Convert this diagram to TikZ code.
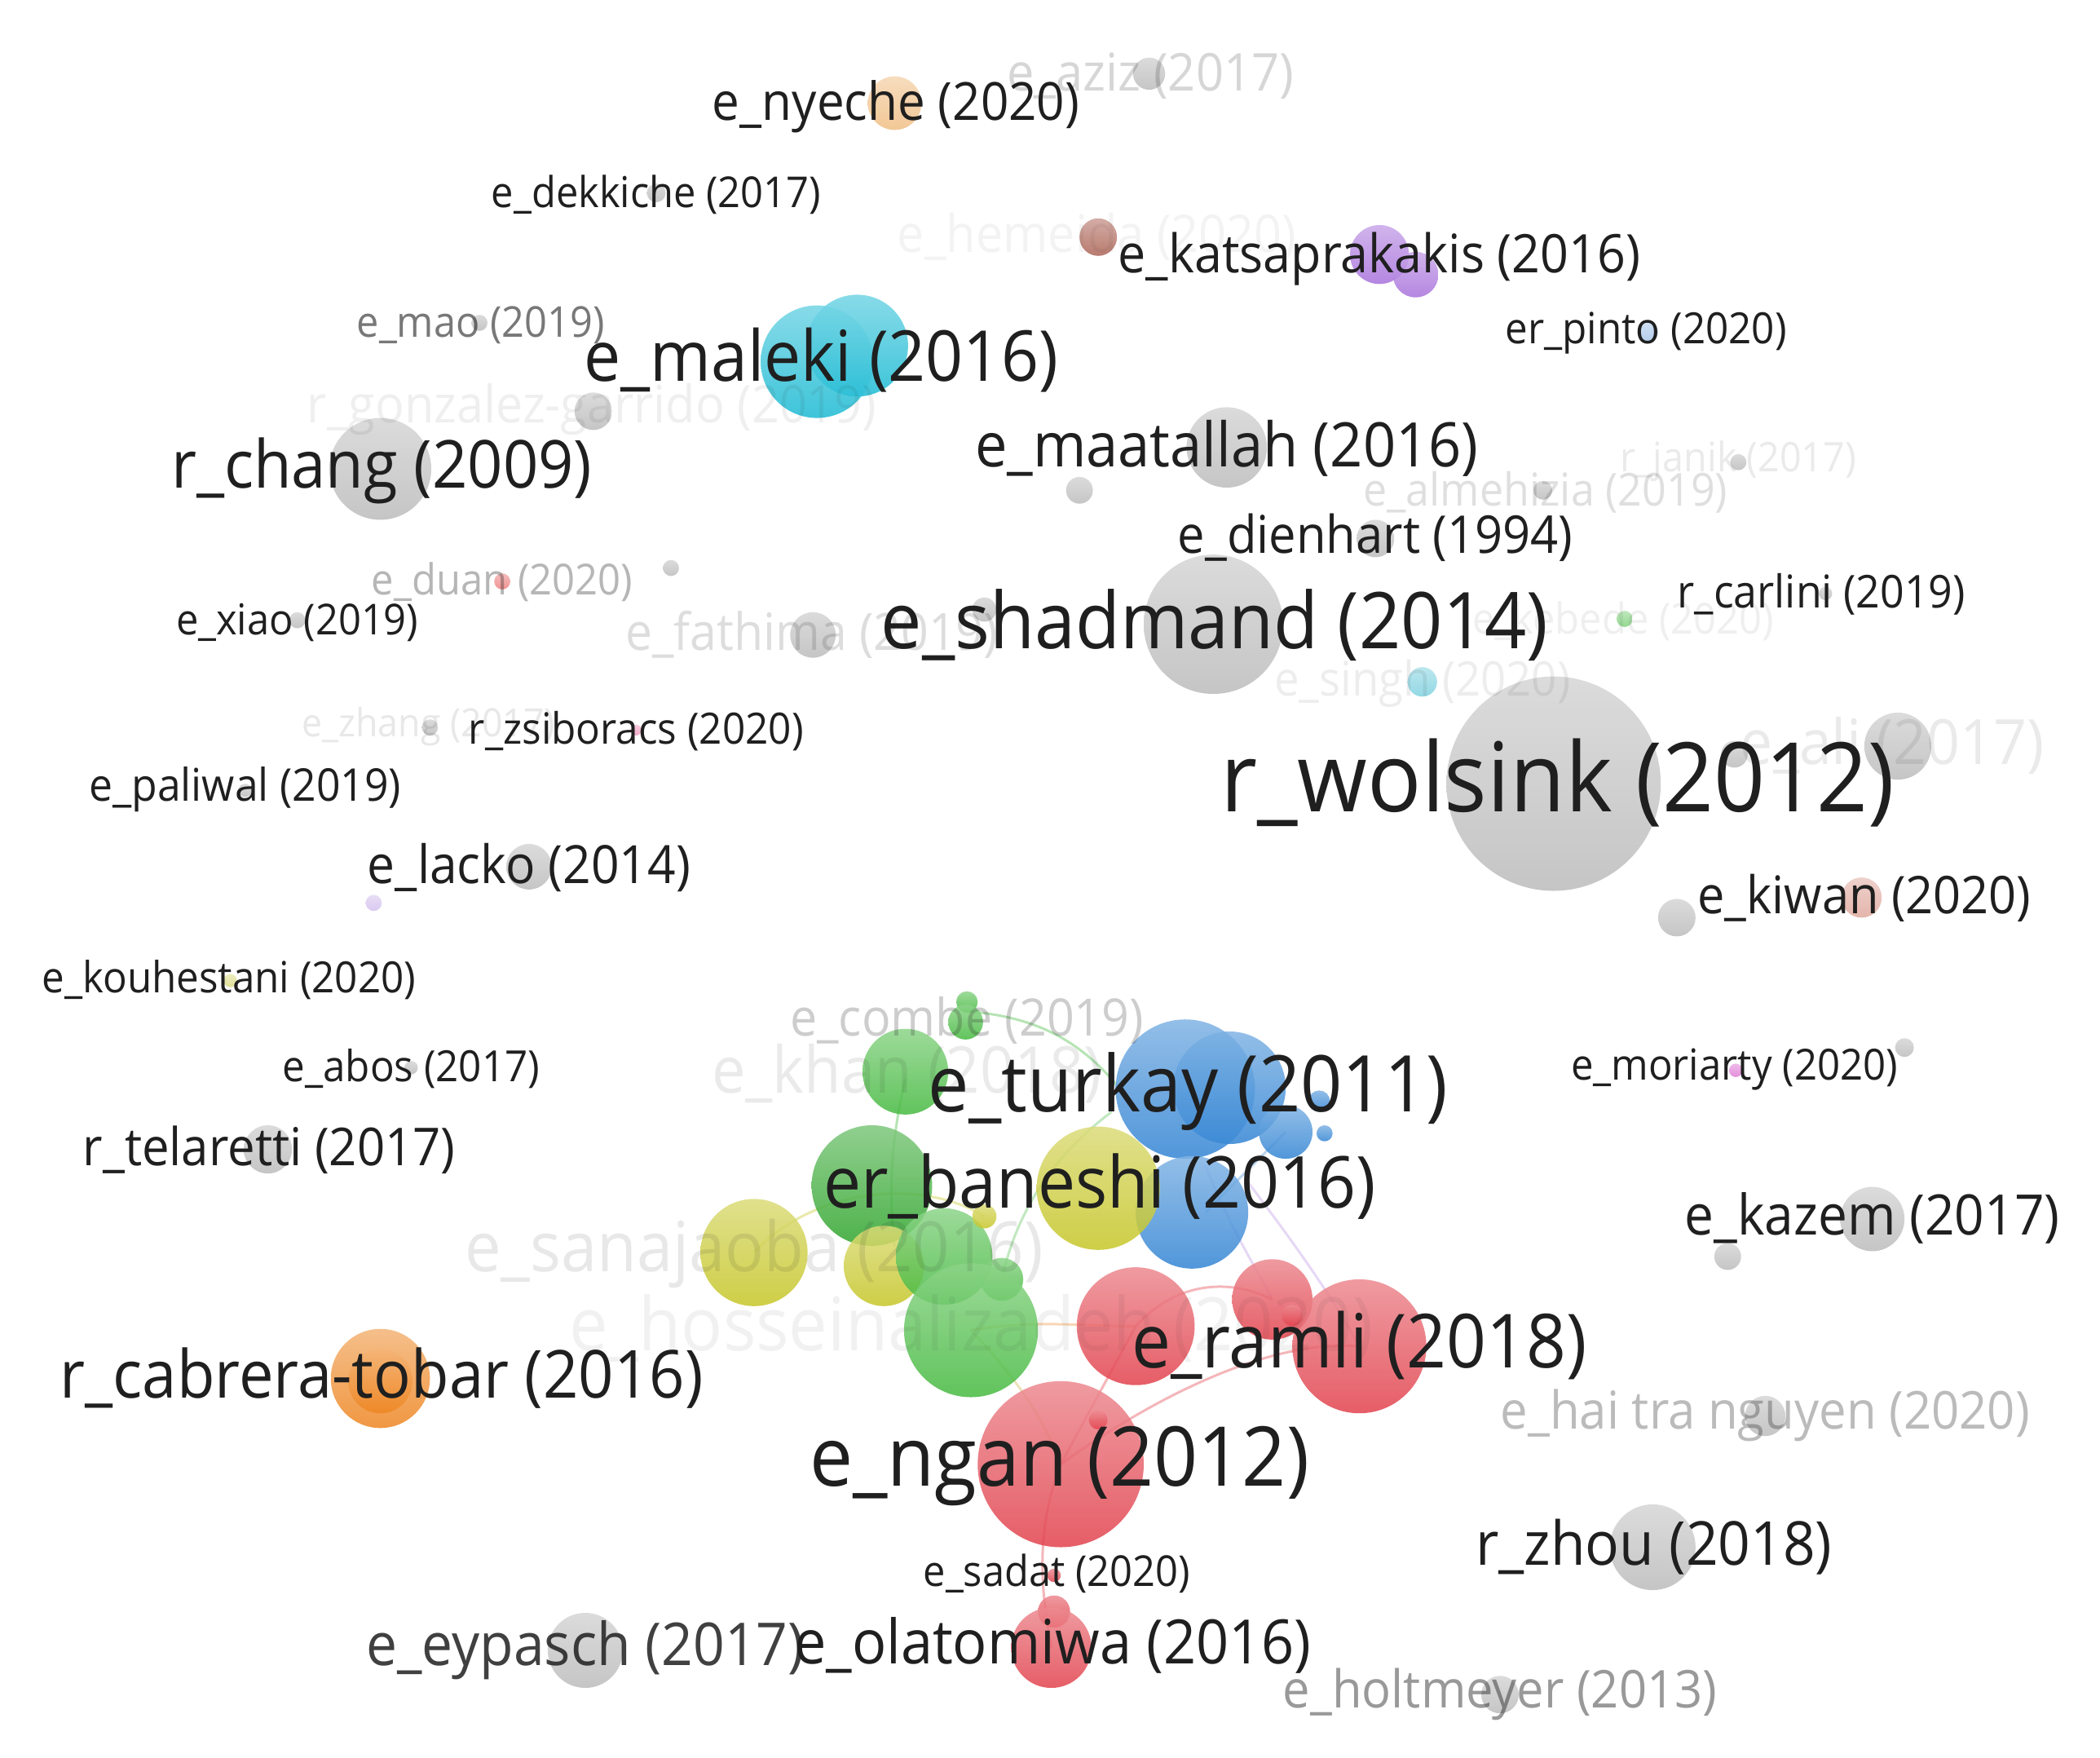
\documentclass[tikz,border=0pt]{standalone}
\usepackage{fontspec}
\setmainfont{Open Sans}
\usepackage{graphicx}
\definecolor{vgray}{HTML}{BCBCBC}
\definecolor{vred}{HTML}{E2424D}
\definecolor{vgreen}{HTML}{46BA40}
\definecolor{vdgreen}{HTML}{2FA52C}
\definecolor{vblue}{HTML}{3385D4}
\definecolor{vyellow}{HTML}{C6C628}
\definecolor{vcyan}{HTML}{1DBBD4}
\definecolor{vpurple}{HTML}{A872DC}
\definecolor{vorange}{HTML}{EE8622}
\definecolor{vlorange}{HTML}{F0BE84}
\definecolor{vbrown}{HTML}{AD6456}
\definecolor{vlblue}{HTML}{A6C4EA}
\definecolor{vlred}{HTML}{EE8080}
\definecolor{vlgreen}{HTML}{84D27F}
\definecolor{vlcyan}{HTML}{80D2E0}
\definecolor{vpink}{HTML}{F09CC0}
\definecolor{vlav}{HTML}{D3C0EE}
\definecolor{vsalmon}{HTML}{E0A99E}
\definecolor{vkhaki}{HTML}{DCDC86}
\definecolor{vmag}{HTML}{E07CD6}
\newdimen\uu \uu=1.6429pt
\newcommand\bub[5]{\node[bubble, minimum size={#4*3.2858pt}, top color=#5!62!white, bottom color=#5] (#1) at (#2,#3) {};}
\newcommand\lab[6]{\node[labtxt, text opacity=#5] (#1) at (#2,#3) {\scalebox{1}[1.07]{\resizebox{#4\uu}{!}{#6}}};}
\tikzset{
  bubble/.style={circle, draw=none, inner sep=0pt, outer sep=0pt, fill opacity=0.85},
  labtxt/.style={inner sep=0pt, outer sep=0pt, yshift=-2.5pt, text=black!88, font=\fontsize{20}{24}\selectfont},
  link/.style={line width=3pt, opacity=0.55}
}
\begin{document}
\begin{tikzpicture}[x=1.6429pt, y=-1.6429pt]
\fill[white] (0,0) rectangle (1568,1312);
\useasboundingbox (0,0) rectangle (1568,1312);

% ---------- bubbles: scattered nodes ----------
\bub{aziz}{858}{55}{12}{vgray}
\bub{nyeche}{668}{77}{20}{vlorange}
\bub{dekkiche}{490}{144}{7}{vgray}
\bub{hemeida}{820}{177}{14}{vbrown}
\bub{katsa}{1030}{190}{22}{vpurple}
\bub{katsb}{1057}{205}{17}{vpurple}
\bub{pinto}{1231}{248}{7}{vlblue}
\bub{mao}{358}{241}{6}{vgray}
\bub{malekib}{640}{258}{38}{vcyan}
\bub{maleki}{610}{270}{42}{vcyan}
\bub{gonzalez}{443}{307}{14}{vgray}
\bub{chang}{284}{350}{38}{vgray}
\bub{maatallah}{916}{334}{30}{vgray}
\bub{u1}{806}{366}{10}{vgray}
\bub{almehizia}{1152}{366}{7}{vgray}
\bub{janik}{1298}{345}{6}{vgray}
\bub{dienhart}{1027}{402}{14}{vgray}
\bub{duan}{375}{434}{6}{vlred}
\bub{u2}{501}{424}{6}{vgray}
\bub{xiao}{222}{463}{6}{vgray}
\bub{fathima}{607}{474}{17}{vgray}
\bub{u3}{735}{455}{9}{vgray}
\bub{shadmand}{906}{466}{52}{vgray}
\bub{kebede}{1213}{462}{6}{vlgreen}
\bub{carlini}{1363}{443}{5}{vgray}
\bub{singh}{1062}{509}{11}{vlcyan}
\bub{wolsink}{1160}{585}{80}{vgray}
\bub{u4}{1295}{563}{10}{vgray}
\bub{ali}{1417}{557}{25}{vgray}
\bub{zhang}{321}{543}{6}{vgray}
\bub{zsiboracs}{475}{545}{4}{vpink}
\bub{paliwal}{183}{590}{5}{vgray}
\bub{lacko}{395}{647}{17}{vgray}
\bub{u5}{279}{674}{6}{vlav}
\bub{u6}{1252}{685}{14}{vgray}
\bub{kiwan}{1390}{670}{15}{vsalmon}
\bub{kouhestani}{172}{732}{5}{vkhaki}
\bub{abos}{307}{797}{5}{vgray}
\bub{moriarty}{1296}{799}{5}{vmag}
\bub{u7}{1422}{782}{7}{vgray}
\bub{telaretti}{200}{858}{18}{vgray}
\bub{kazem}{1398}{910}{24}{vgray}
\bub{u8}{1290}{938}{10}{vgray}
\bub{cabrera}{284}{1029}{37}{vorange}
\bub{cabrerain}{284}{1031}{24}{vorange}
\bub{haitra}{1318}{1057}{15}{vgray}
\bub{zhou}{1234}{1155}{32}{vgray}
\bub{eypasch}{437}{1232}{28}{vgray}
\bub{holtmeyer}{1120}{1265}{14}{vgray}

% ---------- links in the cluster ----------
\coordinate (cA) at (722,755);
\draw[link, vgreen!70!white] (cA) .. controls (790,760) and (820,790) .. (850,830);
\draw[link, vgreen!70!white] (676,805) .. controls (668,840) and (662,880) .. (668,930);
\draw[link, vyellow!70!white] (563,935) .. controls (610,885) and (690,880) .. (735,908);
\draw[link, vorange!60!white] (725,993) .. controls (770,985) and (810,990) .. (848,990);
\draw[link, vred!70!white] (848,990) .. controls (880,955) and (920,955) .. (950,970);
\draw[link, vred!70!white] (792,1093) .. controls (880,1030) and (960,1000) .. (1015,1005);
\draw[link, vred!70!white] (792,1093) -- (848,990);
\draw[link, vpurple!50!white] (930,880) .. controls (960,920) and (990,960) .. (1015,1005);
\draw[link, vpurple!50!white] (900,870) .. controls (920,920) and (940,950) .. (950,970);
\draw[link, vblue!60!white] (960,845) -- (900,905);
\draw[link, vyellow!60!brown!60!white] (725,993) .. controls (760,1030) and (780,1060) .. (792,1093);
\draw[link, vred!70!white] (792,1093) .. controls (770,1150) and (780,1200) .. (785,1230);
\draw[link, vgreen!60!white] (748,955) .. controls (760,900) and (790,860) .. (830,830);

% ---------- bubbles: cluster ----------
\bub{combea}{722}{748}{8}{vgreen}
\bub{combe}{721}{763}{13}{vgreen}
\bub{khan}{676}{800}{32}{vgreen}
\bub{g1}{651}{885}{45}{vdgreen}
\bub{y1}{563}{935}{40}{vyellow}
\bub{y2}{660}{945}{30}{vyellow}
\bub{g2}{705}{938}{36}{vgreen}
\bub{g3}{748}{955}{16}{vgreen}
\bub{y3}{735}{908}{9}{vyellow}
\bub{hossein}{725}{993}{50}{vgreen}
\bub{b1}{918}{812}{42}{vblue}
\bub{turkay}{885}{813}{52}{vblue}
\bub{b2}{890}{905}{42}{vblue}
\bub{b3}{960}{845}{20}{vblue}
\bub{b4}{985}{822}{8}{vblue}
\bub{b5}{989}{846}{6}{vblue}
\bub{baneshi}{820}{887}{46}{vyellow}
\bub{r1}{848}{990}{44}{vred}
\bub{r2}{950}{970}{30}{vred}
\bub{ramli}{1015}{1005}{50}{vred}
\bub{r3}{965}{982}{8}{vred}
\bub{ngan}{792}{1093}{62}{vred}
\bub{r4}{820}{1060}{7}{vred}
\bub{sadat}{787}{1176}{5}{vred}
\bub{r5}{787}{1203}{12}{vred}
\bub{olatomiwa}{785}{1230}{30}{vred}

% ---------- labels ----------
\lab{l-aziz}{859}{55}{214}{0.18}{e\_aziz (2017)}
\lab{l-nyeche}{669}{78}{274}{1}{e\_nyeche (2020)}
\lab{l-dekkiche}{490}{144}{246}{1}{e\_dekkiche (2017)}
\lab{l-hemeida}{819}{175}{298}{0.05}{e\_hemeida (2020)}
\lab{l-katsa}{1030}{192}{390}{1}{e\_katsaprakakis (2016)}
\lab{l-pinto}{1229}{247}{210}{1}{er\_pinto (2020)}
\lab{l-mao}{359}{241}{185}{0.6}{e\_mao (2019)}
\lab{l-maleki}{613}{267}{354}{1}{e\_maleki (2016)}
\lab{l-gonzalez}{442}{304}{425}{0.07}{r\_gonzalez-garrido (2019)}
\lab{l-chang}{285}{350}{314}{1}{r\_chang (2009)}
\lab{l-maatallah}{916}{333}{376}{1}{e\_maatallah (2016)}
\lab{l-almehizia}{1154}{366}{272}{0.14}{e\_almehizia (2019)}
\lab{l-janik}{1298}{343}{176}{0.09}{r\_janik (2017)}
\lab{l-dienhart}{1027}{400}{295}{1}{e\_dienhart (1994)}
\lab{l-duan}{375}{433}{195}{0.32}{e\_duan (2020)}
\lab{l-xiao}{222}{463}{181}{1}{e\_xiao (2019)}
\lab{l-fathima}{606}{472}{278}{0.15}{e\_fathima (2019)}
\lab{l-shadmand}{907}{465}{498}{1}{e\_shadmand (2014)}
\lab{l-kebede}{1212}{462}{225}{0.07}{e\_kebede (2020)}
\lab{l-carlini}{1360}{442}{215}{1}{r\_carlini (2019)}
\lab{l-singh}{1062}{509}{221}{0.08}{e\_singh (2020)}
\lab{l-wolsink}{1163}{583}{503}{1}{r\_wolsink (2012)}
\lab{l-ali}{1413}{555}{227}{0.09}{e\_ali (2017)}
\lab{l-zhang}{320}{541}{189}{0.1}{e\_zhang (2017)}
\lab{l-zsiboracs}{475}{544}{250}{1}{r\_zsiboracs (2020)}
\lab{l-paliwal}{183}{588}{233}{1}{e\_paliwal (2019)}
\lab{l-lacko}{395}{646}{241}{1}{e\_lacko (2014)}
\lab{l-kiwan}{1392}{669}{249}{1}{e\_kiwan (2020)}
\lab{l-kouhestani}{171}{730}{279}{1}{e\_kouhestani (2020)}
\lab{l-abos}{307}{796}{192}{1}{e\_abos (2017)}
\lab{l-combe}{722}{760}{264}{0.22}{e\_combe (2019)}
\lab{l-khan}{677}{800}{291}{0.09}{e\_khan (2018)}
\lab{l-turkay}{887}{813}{388}{1}{e\_turkay (2011)}
\lab{l-moriarty}{1295}{797}{244}{1}{e\_moriarty (2020)}
\lab{l-baneshi}{821}{884}{412}{1}{er\_baneshi (2016)}
\lab{l-telaretti}{201}{857}{278}{1}{r\_telaretti (2017)}
\lab{l-sanajaoba}{563}{934}{432}{0.1}{e\_sanajaoba (2016)}
\lab{l-kazem}{1398}{908}{280}{1}{e\_kazem (2017)}
\lab{l-hossein}{725}{990}{600}{0.06}{e\_hosseinalizadeh (2020)}
\lab{l-ramli}{1015}{1003}{340}{1}{e\_ramli (2018)}
\lab{l-cabrera}{285}{1027}{480}{1}{r\_cabrera-tobar (2016)}
\lab{l-haitra}{1318}{1055}{395}{0.3}{e\_hai tra nguyen (2020)}
\lab{l-ngan}{791}{1093}{373}{1}{e\_ngan (2012)}
\lab{l-zhou}{1235}{1153}{266}{1}{r\_zhou (2018)}
\lab{l-sadat}{789}{1173}{199}{1}{e\_sadat (2020)}
\lab{l-olatomiwa}{786}{1227}{386}{1}{e\_olatomiwa (2016)}
\lab{l-eypasch}{437}{1230}{327}{0.85}{e\_eypasch (2017)}
\lab{l-holtmeyer}{1120}{1263}{324}{0.45}{e\_holtmeyer (2013)}
\end{tikzpicture}
\end{document}
